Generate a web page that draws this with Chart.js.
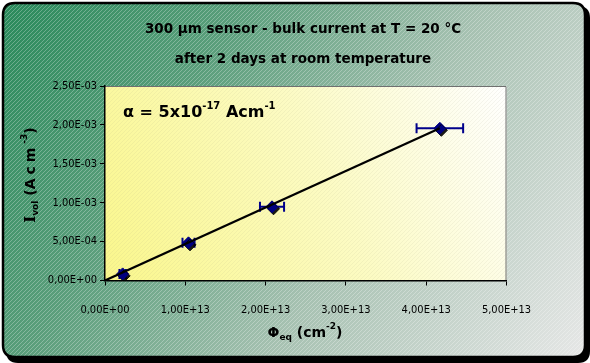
<!DOCTYPE html>
<html>
<head>
<meta charset="utf-8">
<script src="https://cdn.jsdelivr.net/npm/chart.js@4/dist/chart.umd.min.js"></script>
<style>
  html, body { margin: 0; padding: 0; background: #ffffff; }
  #wrap { width: 590px; height: 363px; position: relative; }
</style>
</head>
<body>
<div id="wrap"><canvas id="chart" width="590" height="363"></canvas></div>
<script>
// Measured bulk current density vs. equivalent fluence
const fluence        = [2.2e12, 1.04e13, 2.08e13, 4.17e13];   // cm^-2
const currentDensity = [8.5e-5, 4.84e-4, 9.47e-4, 1.956e-3];  // A cm^-3
const fluenceError   = [4e11, 7.5e11, 1.5e12, 2.9e12];        // cm^-2

// Linear fit through the origin
const fitFluence = [0, 4.17e13];
const fitCurrent = [0, 1.956e-3];

// Axis ticks
const xTicks = [0, 1e13, 2e13, 3e13, 4e13, 5e13];
const xTickLabels = ['0,00E+00', '1,00E+13', '2,00E+13', '3,00E+13', '4,00E+13', '5,00E+13'];
const yTicks = [0, 5e-4, 1e-3, 1.5e-3, 2e-3, 2.5e-3];
const yTickLabels = ['0,00E+00', '5,00E-04', '1,00E-03', '1,50E-03', '2,00E-03', '2,50E-03'];

const titleLines = ['300 µm sensor - bulk current at T = 20 °C', 'after 2 days at room temperature'];

const FONT = '"DejaVu Sans", sans-serif';
const TICK_FONT = '"DejaVu Sans Condensed", "Liberation Sans Narrow", sans-serif';

function hatchPattern(ctx, color) {
  const p = document.createElement('canvas');
  p.width = 4; p.height = 4;
  const g = p.getContext('2d');
  g.strokeStyle = color;
  g.lineWidth = 1;
  g.beginPath();
  g.moveTo(-1, 5); g.lineTo(5, -1);
  g.moveTo(-1, 1); g.lineTo(1, -1);
  g.moveTo(3, 5); g.lineTo(5, 3);
  g.stroke();
  return ctx.createPattern(p, 'repeat');
}

function roundRect(ctx, x, y, w, h, r) {
  ctx.beginPath();
  ctx.moveTo(x + r, y);
  ctx.lineTo(x + w - r, y);
  ctx.quadraticCurveTo(x + w, y, x + w, y + r);
  ctx.lineTo(x + w, y + h - r);
  ctx.quadraticCurveTo(x + w, y + h, x + w - r, y + h);
  ctx.lineTo(x + r, y + h);
  ctx.quadraticCurveTo(x, y + h, x, y + h - r);
  ctx.lineTo(x, y + r);
  ctx.quadraticCurveTo(x, y, x + r, y);
  ctx.closePath();
}

// Draws a run of text pieces with sub/superscripts, centred or left-aligned on (x, y)
function drawRich(ctx, parts, x, y, align) {
  let total = 0;
  parts.forEach(p => {
    ctx.font = p.font;
    ctx.letterSpacing = p.spacing || '0px';
    p.w = ctx.measureText(p.t).width;
    total += p.w;
  });
  let cx = align === 'center' ? x - total / 2 : x;
  ctx.textBaseline = 'middle';
  ctx.textAlign = 'left';
  parts.forEach(p => {
    ctx.font = p.font;
    ctx.letterSpacing = p.spacing || '0px';
    ctx.fillText(p.t, cx, y + (p.dy || 0));
    cx += p.w;
  });
  ctx.letterSpacing = '0px';
}

const backgroundPlugin = {
  id: 'background',
  beforeDraw(chart) {
    const ctx = chart.ctx;
    const W = chart.width, H = chart.height;
    const a = chart.chartArea;
    ctx.save();
    // drop shadow of the frame
    ctx.fillStyle = '#000';
    roundRect(ctx, 6, 6, W - 6, H - 6, 12);
    ctx.fill();
    // frame fill
    const g = ctx.createLinearGradient(0, 0, W, H);
    g.addColorStop(0, '#28895a');
    g.addColorStop(0.3, '#5a9e7b');
    g.addColorStop(0.6, '#a6c1b1');
    g.addColorStop(1, '#e8e8e8');
    roundRect(ctx, 3, 3, W - 8, H - 9, 12);
    ctx.fillStyle = g;
    ctx.fill();
    ctx.fillStyle = hatchPattern(ctx, 'rgba(255,255,255,0.28)');
    ctx.fill();
    ctx.lineWidth = 2.5;
    ctx.strokeStyle = '#000';
    ctx.stroke();

    // plot area
    const pg = ctx.createLinearGradient(a.left, a.bottom, a.right, a.top);
    pg.addColorStop(0, '#faf78c');
    pg.addColorStop(0.55, '#fcfbc4');
    pg.addColorStop(1, '#ffffff');
    ctx.fillStyle = pg;
    ctx.fillRect(a.left, a.top, a.right - a.left, a.bottom - a.top);
    ctx.fillStyle = hatchPattern(ctx, 'rgba(150,150,120,0.10)');
    ctx.fillRect(a.left, a.top, a.right - a.left, a.bottom - a.top);
    ctx.strokeStyle = '#707070';
    ctx.lineWidth = 1;
    ctx.beginPath();
    ctx.moveTo(a.left, a.top + 0.5);
    ctx.lineTo(a.right - 0.5, a.top + 0.5);
    ctx.lineTo(a.right - 0.5, a.bottom);
    ctx.stroke();
    ctx.restore();
  },
  afterDraw(chart) {
    const ctx = chart.ctx;
    ctx.save();
    ctx.fillStyle = '#000';
    ctx.textAlign = 'center';
    ctx.textBaseline = 'middle';
    ctx.font = 'bold 13.5px ' + FONT;
    ctx.fillText(titleLines[0], 303, 29);
    ctx.fillText(titleLines[1], 303, 59);

    const big = 'bold 16px ' + FONT;
    const sup = 'bold 10px ' + FONT;
    drawRich(ctx, [
      { t: 'α = 5x10', font: big },
      { t: '-17', font: sup, dy: -7 },
      { t: ' Acm', font: big },
      { t: '-1', font: sup, dy: -7 }
    ], 123, 113, 'left');

    // x axis title
    const axf = 'bold 14px ' + FONT;
    const axs = 'bold 9px ' + FONT;
    drawRich(ctx, [
      { t: 'Φ', font: axf },
      { t: 'eq', font: axs, dy: 5 },
      { t: ' (cm', font: axf },
      { t: '-2', font: axs, dy: -6 },
      { t: ')', font: axf }
    ], 305, 333, 'center');

    // y axis title
    ctx.translate(31, 175);
    ctx.rotate(-Math.PI / 2);
    drawRich(ctx, [
      { t: 'I', font: 'bold 15px "DejaVu Serif", serif' },
      { t: 'vol', font: axs, dy: 5 },
      { t: ' (', font: axf },
      { t: 'Acm', font: axf, spacing: '4px' },
      { t: '-3', font: axs, dy: -6 },
      { t: ')', font: axf }
    ], 0, 0, 'center');
    ctx.restore();
  },
  beforeDatasetDraw(chart, args) {
    if (args.index !== 1) return;
    const ctx = chart.ctx;
    const xs = chart.scales.x, ys = chart.scales.y;
    ctx.save();
    ctx.strokeStyle = '#00008b';
    ctx.lineWidth = 2;
    fluence.forEach((f, i) => {
      const y = ys.getPixelForValue(currentDensity[i]);
      const x0 = xs.getPixelForValue(f - fluenceError[i]);
      const x1 = xs.getPixelForValue(f + fluenceError[i]);
      ctx.beginPath();
      ctx.moveTo(x0, y); ctx.lineTo(x1, y);
      ctx.moveTo(x0, y - 5); ctx.lineTo(x0, y + 5);
      ctx.moveTo(x1, y - 5); ctx.lineTo(x1, y + 5);
      ctx.stroke();
    });
    ctx.restore();
    // dark drop shadow under the markers
    ctx.save();
    ctx.shadowColor = 'rgba(0,0,0,0.9)';
    ctx.shadowOffsetX = 1.5;
    ctx.shadowOffsetY = 2;
    ctx.shadowBlur = 0;
  },
  afterDatasetDraw(chart, args) {
    if (args.index !== 1) return;
    chart.ctx.restore();
  }
};

const ctx = document.getElementById('chart').getContext('2d');
new Chart(ctx, {
  type: 'scatter',
  data: {
    datasets: [
      {
        type: 'line',
        data: fitFluence.map((f, i) => ({ x: f, y: fitCurrent[i] })),
        borderColor: '#000',
        borderWidth: 2.2,
        pointRadius: 0,
        fill: false,
        tension: 0
      },
      {
        data: fluence.map((f, i) => ({ x: f, y: currentDensity[i] })),
        pointStyle: 'rectRot',
        pointRadius: 6,
        backgroundColor: '#000080',
        borderColor: '#000080',
        borderWidth: 1
      }
    ]
  },
  plugins: [backgroundPlugin],
  options: {
    responsive: false,
    animation: false,
    devicePixelRatio: 1,
    layout: { padding: { left: 0, top: 86, right: 83.5, bottom: 0 } },
    plugins: { legend: { display: false }, tooltip: { enabled: false }, title: { display: false } },
    scales: {
      x: {
        type: 'linear',
        min: 0, max: 5e13,
        afterBuildTicks: s => { s.ticks = xTicks.map(v => ({ value: v })); },
        afterFit: s => { s.height = 82.5; },
        ticks: {
          callback: (v, i) => xTickLabels[i],
          font: { family: TICK_FONT, size: 11 },
          color: '#000',
          padding: 18,
          maxRotation: 0
        },
        grid: { drawOnChartArea: false, drawTicks: true, tickLength: 5, color: '#000' },
        border: { display: true, color: '#000', width: 1.5 }
      },
      y: {
        type: 'linear',
        min: 0, max: 2.5e-3,
        afterBuildTicks: s => { s.ticks = yTicks.map(v => ({ value: v })); },
        afterFit: s => { s.width = 105; },
        ticks: {
          callback: (v, i) => yTickLabels[i],
          font: { family: TICK_FONT, size: 11 },
          color: '#000',
          padding: 3
        },
        grid: { drawOnChartArea: false, drawTicks: true, tickLength: 5, color: '#000' },
        border: { display: true, color: '#000', width: 1.5 }
      }
    }
  }
});
</script>
</body>
</html>
